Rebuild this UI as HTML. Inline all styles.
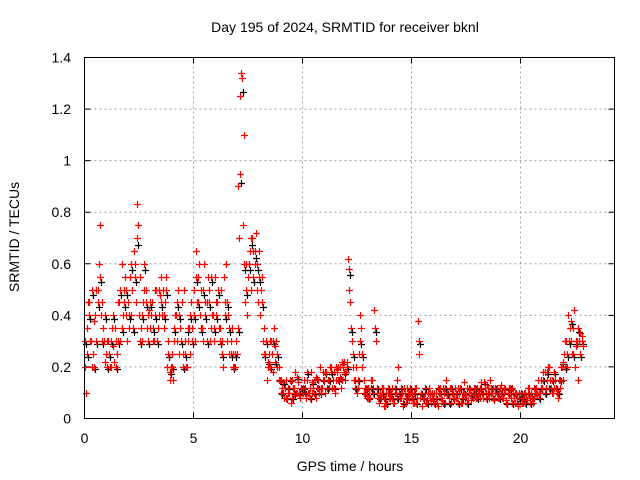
<!DOCTYPE html>
<html><head><meta charset="utf-8"><style>
body{margin:0;background:#fff}
svg{display:block;font-family:"Liberation Sans",sans-serif;font-size:14px}
</style></head><body>
<svg id="chart" width="640" height="480">
<text x="345" y="32" text-anchor="middle">Day 195 of 2024, SRMTID for receiver bknl</text>
<text x="350" y="471" text-anchor="middle">GPS time / hours</text>
<text transform="translate(19,237) rotate(-90)" text-anchor="middle">SRMTID / TECUs</text>
<g id="grid"></g><g id="ticks"></g><g id="marks"></g>
<rect x="84.5" y="57.5" width="530" height="361" fill="none" stroke="#000"/>
</svg>
<script>
const xTicks=[0,5,10,15,20];
const yTicks=[0,0.2,0.4,0.6,0.8,1,1.2,1.4];
const yTickLabels=["0","0.2","0.4","0.6","0.8","1","1.2","1.4"];
const seriesStepHours=0.1;
const redValsA=[.2,.35,.45,.3,.25,.4,.5,.75,.45,.3,
.25,.3,.2,.28,.35,.25,.45,.6,.5,.4,
.45,.55,.5,.6,.83,.4,.35,.45,.5,.4,
.35,.45,.3,.5,.4,.55,.5,.45,.2,.15,
.25,.3,.4,.5,.35,.25,.3,.2,.35,.45,
.5,.65,.55,.4,.35,.6,.45,.5,.35,.4,
.55,.45,.35,.3,.55,.6,.4,.3,.25,.2,
.25,.7,1.34,1.1,.6,.55,.65,.7,.6,.5,
.65,.5,.3,.25,.2,.3,.25,.35,.3,.2,
.15,.1,.12,.08,.1,.15,.12,.1,.14,.08,
.1,.12,.15,.1,.18,.12,.08,.15,.2,.12,
.15,.18,.12,.2,.15,.1,.18,.2,.15,.22,
.18,.62,.45,.2,.15,.1,.25,.35,.15,.1,
.12,.08,.15,.42,.1,.06,.08,.12,.05,.1,
.08,.12,.06,.1,.2,.08,.05,.1,.12,.07,
.1,.06,.12,.38,.08,.05,.1,.07,.12,.06,
.08,.1,.05,.12,.07,.1,.15,.08,.06,.1,
.12,.08,.1,.06,.14,.09,.07,.11,.08,.1,
.12,.1,.14,.08,.1,.12,.15,.1,.07,.12,
.1,.13,.08,.11,.06,.1,.12,.08,.1,.05,
.08,.06,.1,.07,.12,.1,.08,.12,.15,.1,
.12,.18,.15,.2,.12,.1,.15,.08,.12,.2,
.25,.3,.4,.3,.35,.2,.3,.3,.32];
const redValsB=[.1,.45,.3,.2,.38,.5,.6,.4,.35,.22,
.3,.2,.35,.22,.3,.45,.3,.4,.55,.3,
.35,.4,.65,.45,.75,.55,.3,.5,.35,.42,
.4,.3,.5,.35,.48,.4,.35,.55,.3,.2,
.15,.4,.3,.25,.45,.5,.2,.3,.25,.35,
.3,.45,.6,.5,.3,.45,.55,.3,.4,.3,
.45,.35,.5,.2,.45,.3,.25,.35,.2,.3,
.9,1.25,.75,.45,.4,.6,.5,.65,.72,.45,
.4,.55,.35,.15,.25,.3,.18,.28,.2,.15,
.12,.08,.15,.1,.06,.12,.18,.1,.09,.12,
.15,.08,.1,.12,.1,.15,.12,.1,.12,.18,
.1,.15,.2,.12,.18,.15,.2,.12,.2,.15,
.22,.5,.3,.15,.2,.12,.4,.2,.12,.08,
.1,.15,.12,.3,.08,.1,.12,.05,.1,.08,
.1,.06,.1,.15,.08,.1,.12,.06,.09,.1,
.06,.12,.08,.25,.1,.08,.06,.1,.08,.1,
.1,.06,.1,.08,.12,.06,.09,.12,.1,.08,
.08,.12,.06,.1,.08,.12,.1,.07,.12,.08,
.1,.08,.1,.12,.13,.08,.1,.12,.1,.08,
.12,.08,.1,.07,.12,.08,.1,.06,.08,.1,
.06,.1,.08,.12,.08,.06,.1,.09,.1,.15,
.18,.12,.2,.15,.1,.12,.1,.15,.2,.15,
.3,.2,.35,.25,.42,.28,.15,.33,.28];
const redValsC=[.3,.25,.4,.5,.2,.3,.45,.55,.3,.4,
.2,.25,.3,.4,.2,.3,.5,.35,.45,.5,
.4,.6,.35,.55,.7,.3,.4,.6,.45,.3,
.45,.35,.4,.3,.5,.45,.4,.5,.25,.18,
.2,.35,.45,.4,.3,.2,.25,.35,.4,.3,
.4,.55,.45,.35,.5,.4,.3,.45,.55,.35,
.4,.5,.3,.25,.4,.45,.35,.25,.2,.25,
.35,.95,1.32,.6,.5,.6,.7,.55,.65,.6,
.55,.45,.25,.3,.22,.2,.3,.22,.25,.15,
.1,.14,.08,.12,.15,.08,.1,.16,.1,.12,
.12,.1,.18,.08,.14,.1,.16,.12,.1,.15,
.18,.12,.15,.18,.12,.2,.15,.16,.22,.18,
.2,.58,.35,.25,.12,.15,.3,.25,.1,.12,
.08,.12,.1,.35,.12,.08,.1,.08,.06,.12,
.1,.08,.12,.08,.1,.12,.06,.08,.1,.12,
.08,.1,.06,.3,.1,.08,.12,.06,.1,.08,
.06,.08,.12,.1,.06,.12,.1,.06,.12,.08,
.1,.06,.12,.08,.1,.06,.12,.09,.1,.12,
.08,.12,.1,.14,.08,.1,.12,.08,.12,.1,
.08,.1,.12,.06,.1,.12,.06,.1,.06,.08,
.1,.08,.06,.1,.06,.08,.12,.1,.08,.12,
.15,.1,.18,.12,.15,.18,.12,.1,.15,.22,
.2,.25,.3,.38,.25,.3,.35,.25,.3];
const blackVals=redValsC;
const X0=84.5,X1=614.5,Y0=418.5,Y1=57.5,XMAX=24.31,YMAX=1.4;
const xs=v=>X0+(X1-X0)*v/XMAX;
const ys=v=>Y0-(Y0-Y1)*v/YMAX;
const NS="http://www.w3.org/2000/svg";
const grid=document.getElementById('grid'),ticks=document.getElementById('ticks'),marks=document.getElementById('marks');
function mk(tag,attrs,parent){const e=document.createElementNS(NS,tag);for(const k in attrs)e.setAttribute(k,attrs[k]);parent.appendChild(e);return e;}
xTicks.forEach(t=>{const x=xs(t);
 if(t>0){const g=mk('line',{x1:x,x2:x,y1:Y0,y2:Y1,stroke:'#a0a0a0','stroke-dasharray':'2,3'},grid);
 
 }
 const tk=mk('path',{d:`M${x},${Y0}v-6M${x},${Y1}v6`,stroke:'#000'},ticks);
 
 
 const l=mk('text',{x:x,y:443,'text-anchor':'middle'},ticks);l.textContent=t;
 
 });
yTicks.forEach((t,i)=>{const y=ys(t);
 if(t>0&&t<YMAX){const g=mk('line',{x1:X0,x2:X1,y1:y,y2:y,stroke:'#a0a0a0','stroke-dasharray':'2,3'},grid);
 
 }
 const tk=mk('path',{d:`M${X0},${y}h6M${X1},${y}h-6`,stroke:'#000'},ticks);
 
 
 const l=mk('text',{x:71,y:y+5,'text-anchor':'end'},ticks);l.textContent=yTickLabels[i];
 
 });
function plus(t,v,color,name){const x=Math.round(xs(t))+0.5,y=Math.round(ys(v))+0.5;
 const p=mk('path',{d:`M${x-3.5},${y}h7M${x},${y-3.5}v7`,stroke:color,'stroke-width':1.2},marks);
 
 }
blackVals.forEach((v,i)=>plus(i*seriesStepHours+0.07,v*0.96,'#000','black-point'));
redValsA.forEach((v,i)=>plus(i*seriesStepHours,v,'#ff0000','red-point'));
redValsB.forEach((v,i)=>plus(i*seriesStepHours+0.05,v,'#ff0000','red-point'));
redValsC.forEach((v,i)=>plus(i*seriesStepHours+0.025,v,'#ff0000','red-point'));
</script>
</body></html>
